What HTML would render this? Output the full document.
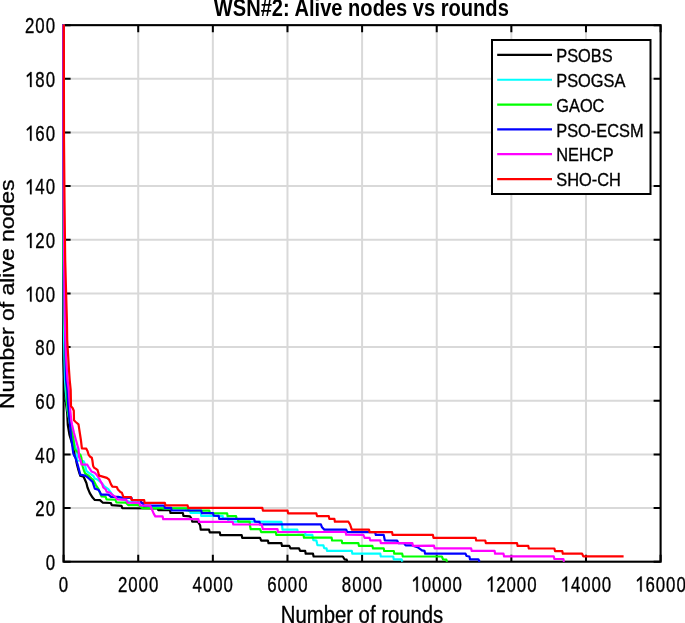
<!DOCTYPE html><html><head><meta charset="utf-8"><style>html,body{margin:0;padding:0;background:#fff;overflow:hidden}svg{display:block;will-change:transform}text{font-family:"Liberation Sans",sans-serif;fill:#000;stroke:#000;stroke-width:0.3px;stroke-linejoin:round}</style></head><body><svg width="685" height="623" viewBox="0 0 685 623"><rect x="0" y="0" width="685" height="623" fill="#fff"/><path d="M138.22 25.15V561.70M212.85 25.15V561.70M287.48 25.15V561.70M362.10 25.15V561.70M436.73 25.15V561.70M511.35 25.15V561.70M585.98 25.15V561.70M63.60 508.05H660.60M63.60 454.39H660.60M63.60 400.74H660.60M63.60 347.08H660.60M63.60 293.43H660.60M63.60 239.77H660.60M63.60 186.11H660.60M63.60 132.46H660.60M63.60 78.80H660.60" stroke="#d9d9d9" stroke-width="2" fill="none"/><path d="M63.60 561.70v-7M63.60 25.15v7M138.22 561.70v-7M138.22 25.15v7M212.85 561.70v-7M212.85 25.15v7M287.48 561.70v-7M287.48 25.15v7M362.10 561.70v-7M362.10 25.15v7M436.73 561.70v-7M436.73 25.15v7M511.35 561.70v-7M511.35 25.15v7M585.98 561.70v-7M585.98 25.15v7M660.60 561.70v-7M660.60 25.15v7M63.60 561.70h7M660.60 561.70h-7M63.60 508.05h7M660.60 508.05h-7M63.60 454.39h7M660.60 454.39h-7M63.60 400.74h7M660.60 400.74h-7M63.60 347.08h7M660.60 347.08h-7M63.60 293.43h7M660.60 293.43h-7M63.60 239.77h7M660.60 239.77h-7M63.60 186.11h7M660.60 186.11h-7M63.60 132.46h7M660.60 132.46h-7M63.60 78.80h7M660.60 78.80h-7M63.60 25.15h7M660.60 25.15h-7" stroke="#000" stroke-width="2" fill="none"/><rect x="63.6" y="25.15" width="597.00" height="536.55" stroke="#000" stroke-width="2.1" fill="none"/><path d="M63.3,24.5 63.3,360.0 64.5,385.0 65.6,400.0 67.2,413.0 67.8,425.0 69.5,435.0 72.5,445.0 74.2,450.0 74.6,456.0 75.8,458.0 76.8,463.8 78.4,470.0 80.3,475.8 83.6,476.8 86.4,483.0 87.5,487.5 89.8,493.1 92.6,497.6 94.8,499.9 100.0,500.1 102.9,502.7 110.9,503.0 111.7,505.2 121.5,505.8 122.3,508.2 157.8,508.3 158.3,510.2 170.0,510.2 170.5,513.0 182.9,513.0 183.4,515.8 190.0,516.3 191.7,519.1 192.2,521.6 197.9,521.6 200.1,525.2 200.7,529.7 209.1,529.7 209.7,532.3 219.8,532.3 220.3,535.1 241.7,535.1 242.2,537.9 260.1,537.9 261.2,540.6 267.9,540.6 268.5,543.2 281.4,543.2 282.0,545.9 289.3,545.9 290.4,548.3 299.0,548.3 300.1,550.9 305.2,550.9 305.7,553.7 313.0,553.7 313.6,556.5 342.8,556.5 344.5,559.3 346.7,559.7 347.3,561.7" stroke="#000000" stroke-width="2.2" fill="none" stroke-linejoin="round"/><path d="M63.4,24.5 63.4,200.0 63.6,260.0 63.9,320.0 64.1,340.0 64.5,360.0 65.0,380.0 65.6,390.0 66.5,400.0 67.5,410.0 69.5,420.0 71.5,430.0 73.5,440.0 75.2,447.0 77.0,450.6 77.0,460.5 83.5,461.0 84.5,463.0 86.3,470.8 88.6,472.7 93.4,476.0 94.7,478.5 97.5,479.5 101.6,483.0 104.4,486.4 108.3,489.1 110.0,491.3 112.0,494.3 115.0,497.3 125.0,500.3 140.0,505.3 165.0,508.3 186.0,508.3 186.5,510.5 190.0,510.5 190.5,512.9 200.9,512.9 201.2,515.9 222.6,515.9 223.0,518.7 228.0,518.7 228.5,521.6 281.4,521.8 282.0,524.7 282.5,529.6 297.3,529.6 297.8,532.1 305.0,532.1 305.5,534.8 312.3,534.8 312.8,537.5 313.3,540.1 316.4,540.5 317.0,543.2 317.5,545.1 323.4,545.3 324.1,548.1 326.5,548.3 327.0,550.9 351.8,550.9 352.4,553.7 380.3,553.7 380.8,556.5 393.2,556.5 393.8,559.3 401.6,559.3 402.4,561.7" stroke="#00ffff" stroke-width="2.2" fill="none" stroke-linejoin="round"/><path d="M63.4,24.5 63.4,200.0 63.8,260.0 64.6,320.0 65.1,340.0 65.7,360.0 66.3,380.0 66.8,392.0 67.3,405.0 69.0,418.0 71.0,428.0 73.2,438.0 74.2,446.0 74.5,449.0 76.5,451.0 80.5,455.0 81.2,457.0 82.8,467.0 84.1,470.8 85.1,473.4 88.9,476.0 91.5,478.5 93.3,480.0 96.0,485.3 98.8,489.7 100.5,494.3 101.6,496.5 105.5,496.7 106.6,499.4 115.3,499.7 116.4,502.4 125.9,502.6 128.5,505.1 138.5,505.2 142.4,508.1 188.0,508.4 188.5,510.6 209.3,510.6 210.0,513.2 227.1,513.3 227.6,516.2 236.1,516.2 236.6,519.0 238.0,519.0 238.3,521.6 249.6,521.6 250.1,526.3 250.7,529.2 260.1,529.2 261.2,532.1 275.8,532.1 276.3,534.8 303.5,534.8 304.0,537.7 331.6,537.7 332.1,540.5 341.7,540.5 342.2,543.1 358.4,543.1 358.9,545.9 372.4,545.9 373.0,548.4 383.7,548.4 384.2,551.0 393.8,551.0 394.3,553.7 402.2,553.7 402.8,556.5 441.9,556.5 443.0,559.3 446.4,559.7 447.0,561.7" stroke="#00ff00" stroke-width="2.2" fill="none" stroke-linejoin="round"/><path d="M63.4,24.5 63.5,140.0 63.7,200.0 64.1,260.0 64.9,320.0 65.3,340.0 65.6,360.0 66.0,380.0 67.4,390.0 68.2,405.0 69.5,420.0 70.0,425.0 71.2,438.0 72.2,445.0 73.3,453.4 75.3,457.4 77.5,464.0 79.3,470.8 80.2,474.7 85.1,475.6 87.0,476.9 88.9,478.5 92.6,481.9 94.8,488.6 98.2,489.7 100.0,492.1 101.1,494.6 108.4,494.6 111.0,496.8 118.2,496.8 121.8,497.6 131.5,497.8 132.0,500.3 140.8,500.3 141.2,502.9 143.0,502.9 143.5,505.7 164.3,505.7 164.9,507.9 171.1,507.9 171.6,510.5 201.2,510.5 201.8,513.1 213.0,513.1 213.6,515.7 218.7,515.9 219.2,518.8 254.0,518.8 254.9,521.6 259.5,521.8 260.1,524.4 320.9,524.4 322.0,527.3 324.3,529.6 346.2,529.6 347.3,532.2 375.2,532.2 375.8,534.9 383.7,534.9 384.8,540.3 397.1,540.6 398.3,543.1 404.0,543.1 405.6,545.3 411.2,545.3 417.4,547.2 421.3,549.8 421.7,550.3 424.5,550.9 425.1,553.7 465.5,553.7 466.6,556.0 469.4,556.5 470.0,559.3 478.4,559.3 479.6,561.7" stroke="#0000ff" stroke-width="2.2" fill="none" stroke-linejoin="round"/><path d="M63.5,24.5 63.5,140.0 63.7,200.0 64.1,260.0 64.9,320.0 65.4,340.0 66.3,360.0 67.5,380.0 68.8,390.0 69.8,405.0 71.2,420.0 72.1,425.0 74.0,433.0 75.9,440.0 77.6,446.0 78.6,449.6 79.0,456.7 80.6,460.5 81.5,464.5 87.3,464.7 88.6,467.0 89.9,468.9 91.5,471.5 94.7,472.7 96.6,474.7 97.9,476.6 99.2,478.5 100.0,480.4 102.2,484.1 103.3,487.3 105.8,489.5 106.6,491.7 110.2,492.8 112.0,494.6 115.3,496.8 117.2,499.4 126.3,499.8 127.7,502.7 139.4,503.0 140.1,505.5 150.3,505.7 152.0,509.6 153.7,513.6 155.3,516.4 162.6,516.4 163.2,519.2 198.4,519.1 199.0,521.9 232.7,521.9 233.3,524.5 261.7,524.5 262.9,529.2 277.5,529.2 278.0,532.0 345.6,532.0 346.2,534.7 363.4,534.9 364.6,537.8 369.6,537.8 370.2,540.3 380.3,540.3 380.8,543.1 412.3,543.1 412.9,545.8 434.0,545.7 434.6,548.3 471.1,548.3 471.7,550.9 494.6,550.9 495.1,553.7 503.5,553.7 504.1,556.4 553.8,556.4 554.4,559.0 563.4,559.0 564.0,561.7" stroke="#ff00ff" stroke-width="2.2" fill="none" stroke-linejoin="round"/><path d="M63.8,24.5 64.0,140.0 64.5,200.0 65.2,260.0 66.3,300.0 66.9,320.0 67.2,340.0 69.0,370.0 69.7,380.0 70.7,390.0 71.0,406.3 72.6,408.0 73.8,410.8 74.0,420.3 75.7,422.0 78.5,424.3 80.9,440.0 81.9,448.3 86.3,448.7 87.6,451.2 88.6,454.8 90.2,456.7 91.8,457.7 92.4,460.5 93.1,465.7 94.0,467.6 96.0,468.9 97.6,470.2 98.5,473.4 99.2,475.6 106.9,477.9 109.1,479.7 110.9,484.1 112.4,486.6 116.8,487.0 117.9,489.5 120.4,492.1 121.9,492.8 123.4,496.8 131.0,497.2 131.5,499.9 144.2,500.1 144.6,502.8 164.9,502.9 165.5,505.4 187.6,505.4 188.2,507.9 262.3,507.8 262.9,510.6 287.6,510.6 288.1,513.4 316.4,513.4 317.0,516.1 328.8,516.1 329.3,518.9 334.4,518.9 334.9,521.7 348.4,521.7 350.1,524.5 351.8,529.6 369.0,529.6 369.6,532.2 392.1,532.2 392.6,534.9 432.9,534.9 433.5,537.8 475.6,537.8 476.2,540.5 485.3,540.5 485.8,543.1 517.0,543.1 517.6,545.9 528.3,545.9 528.8,548.5 554.4,548.5 555.0,551.1 562.3,551.1 562.8,553.7 582.1,553.7 583.3,556.3 623.6,556.3" stroke="#ff0000" stroke-width="2.2" fill="none" stroke-linejoin="round"/><text transform="translate(63.50 591.50) scale(0.93 1.19)" font-size="18.1" text-anchor="middle">0</text><text transform="translate(122.68 591.50) scale(0.93 1.19)" font-size="18.1" text-anchor="middle">2</text><text transform="translate(132.97 591.50) scale(0.93 1.19)" font-size="18.1" text-anchor="middle">0</text><text transform="translate(143.28 591.50) scale(0.93 1.19)" font-size="18.1" text-anchor="middle">0</text><text transform="translate(153.58 591.50) scale(0.93 1.19)" font-size="18.1" text-anchor="middle">0</text><text transform="translate(197.30 591.50) scale(0.93 1.19)" font-size="18.1" text-anchor="middle">4</text><text transform="translate(207.60 591.50) scale(0.93 1.19)" font-size="18.1" text-anchor="middle">0</text><text transform="translate(217.90 591.50) scale(0.93 1.19)" font-size="18.1" text-anchor="middle">0</text><text transform="translate(228.20 591.50) scale(0.93 1.19)" font-size="18.1" text-anchor="middle">0</text><text transform="translate(271.92 591.50) scale(0.93 1.19)" font-size="18.1" text-anchor="middle">6</text><text transform="translate(282.22 591.50) scale(0.93 1.19)" font-size="18.1" text-anchor="middle">0</text><text transform="translate(292.52 591.50) scale(0.93 1.19)" font-size="18.1" text-anchor="middle">0</text><text transform="translate(302.82 591.50) scale(0.93 1.19)" font-size="18.1" text-anchor="middle">0</text><text transform="translate(346.55 591.50) scale(0.93 1.19)" font-size="18.1" text-anchor="middle">8</text><text transform="translate(356.85 591.50) scale(0.93 1.19)" font-size="18.1" text-anchor="middle">0</text><text transform="translate(367.15 591.50) scale(0.93 1.19)" font-size="18.1" text-anchor="middle">0</text><text transform="translate(377.45 591.50) scale(0.93 1.19)" font-size="18.1" text-anchor="middle">0</text><text transform="translate(426.32 591.50) scale(0.93 1.19)" font-size="18.1" text-anchor="middle">0</text><text transform="translate(436.62 591.50) scale(0.93 1.19)" font-size="18.1" text-anchor="middle">0</text><text transform="translate(446.93 591.50) scale(0.93 1.19)" font-size="18.1" text-anchor="middle">0</text><text transform="translate(457.23 591.50) scale(0.93 1.19)" font-size="18.1" text-anchor="middle">0</text><text transform="translate(500.95 591.50) scale(0.93 1.19)" font-size="18.1" text-anchor="middle">2</text><text transform="translate(511.25 591.50) scale(0.93 1.19)" font-size="18.1" text-anchor="middle">0</text><text transform="translate(521.55 591.50) scale(0.93 1.19)" font-size="18.1" text-anchor="middle">0</text><text transform="translate(531.85 591.50) scale(0.93 1.19)" font-size="18.1" text-anchor="middle">0</text><text transform="translate(575.58 591.50) scale(0.93 1.19)" font-size="18.1" text-anchor="middle">4</text><text transform="translate(585.88 591.50) scale(0.93 1.19)" font-size="18.1" text-anchor="middle">0</text><text transform="translate(596.17 591.50) scale(0.93 1.19)" font-size="18.1" text-anchor="middle">0</text><text transform="translate(606.48 591.50) scale(0.93 1.19)" font-size="18.1" text-anchor="middle">0</text><text transform="translate(650.20 591.50) scale(0.93 1.19)" font-size="18.1" text-anchor="middle">6</text><text transform="translate(660.50 591.50) scale(0.93 1.19)" font-size="18.1" text-anchor="middle">0</text><text transform="translate(670.80 591.50) scale(0.93 1.19)" font-size="18.1" text-anchor="middle">0</text><text transform="translate(681.10 591.50) scale(0.93 1.19)" font-size="18.1" text-anchor="middle">0</text><text transform="translate(50.35 569.90) scale(0.93 1.19)" font-size="18.1" text-anchor="middle">0</text><text transform="translate(40.05 516.25) scale(0.93 1.19)" font-size="18.1" text-anchor="middle">2</text><text transform="translate(50.35 516.25) scale(0.93 1.19)" font-size="18.1" text-anchor="middle">0</text><text transform="translate(40.05 462.59) scale(0.93 1.19)" font-size="18.1" text-anchor="middle">4</text><text transform="translate(50.35 462.59) scale(0.93 1.19)" font-size="18.1" text-anchor="middle">0</text><text transform="translate(40.05 408.94) scale(0.93 1.19)" font-size="18.1" text-anchor="middle">6</text><text transform="translate(50.35 408.94) scale(0.93 1.19)" font-size="18.1" text-anchor="middle">0</text><text transform="translate(40.05 355.28) scale(0.93 1.19)" font-size="18.1" text-anchor="middle">8</text><text transform="translate(50.35 355.28) scale(0.93 1.19)" font-size="18.1" text-anchor="middle">0</text><text transform="translate(40.05 301.62) scale(0.93 1.19)" font-size="18.1" text-anchor="middle">0</text><text transform="translate(50.35 301.62) scale(0.93 1.19)" font-size="18.1" text-anchor="middle">0</text><text transform="translate(40.05 247.97) scale(0.93 1.19)" font-size="18.1" text-anchor="middle">2</text><text transform="translate(50.35 247.97) scale(0.93 1.19)" font-size="18.1" text-anchor="middle">0</text><text transform="translate(40.05 194.31) scale(0.93 1.19)" font-size="18.1" text-anchor="middle">4</text><text transform="translate(50.35 194.31) scale(0.93 1.19)" font-size="18.1" text-anchor="middle">0</text><text transform="translate(40.05 140.66) scale(0.93 1.19)" font-size="18.1" text-anchor="middle">6</text><text transform="translate(50.35 140.66) scale(0.93 1.19)" font-size="18.1" text-anchor="middle">0</text><text transform="translate(40.05 87.00) scale(0.93 1.19)" font-size="18.1" text-anchor="middle">8</text><text transform="translate(50.35 87.00) scale(0.93 1.19)" font-size="18.1" text-anchor="middle">0</text><text transform="translate(29.75 33.35) scale(0.93 1.19)" font-size="18.1" text-anchor="middle">2</text><text transform="translate(40.05 33.35) scale(0.93 1.19)" font-size="18.1" text-anchor="middle">0</text><text transform="translate(50.35 33.35) scale(0.93 1.19)" font-size="18.1" text-anchor="middle">0</text><path d="M416.29 591.50L417.84 591.50L417.84 576.55L416.79 576.55L412.94 580.05L413.39 581.65L416.29 579.30ZM490.92 591.50L492.47 591.50L492.47 576.55L491.42 576.55L487.57 580.05L488.02 581.65L490.92 579.30ZM565.54 591.50L567.09 591.50L567.09 576.55L566.04 576.55L562.19 580.05L562.64 581.65L565.54 579.30ZM640.17 591.50L641.72 591.50L641.72 576.55L640.67 576.55L636.82 580.05L637.27 581.65L640.17 579.30ZM30.02 301.62L31.57 301.62L31.57 286.68L30.52 286.68L26.67 290.18L27.12 291.77L30.02 289.43ZM30.02 247.97L31.57 247.97L31.57 233.02L30.52 233.02L26.67 236.52L27.12 238.12L30.02 235.77ZM30.02 194.31L31.57 194.31L31.57 179.36L30.52 179.36L26.67 182.86L27.12 184.46L30.02 182.11ZM30.02 140.66L31.57 140.66L31.57 125.71L30.52 125.71L26.67 129.21L27.12 130.81L30.02 128.46ZM30.02 87.00L31.57 87.00L31.57 72.05L30.52 72.05L26.67 75.55L27.12 77.15L30.02 74.80Z" fill="#000" stroke="#000" stroke-width="0.3" stroke-linejoin="round"/><text transform="translate(362 623.0) scale(1 1.14)" font-size="20.3" text-anchor="middle">Number of rounds</text><text transform="translate(13.9 294.25) scale(1 1.131) rotate(-90)" font-size="20.3" text-anchor="middle">Number of alive nodes</text><text transform="translate(361.3 16.05) scale(1 1.16)" font-size="20.1" font-weight="bold" style="stroke:none" text-anchor="middle">WSN#2: Alive nodes vs rounds</text><rect x="492" y="40" width="158.5" height="154" fill="#fff" stroke="#000" stroke-width="2"/><path d="M497.2 54.90H552" stroke="#000000" stroke-width="2.2"/><text transform="translate(556.2 62.10) scale(1 1.11)" font-size="16.4">PSOBS</text><path d="M497.2 79.73H552" stroke="#00ffff" stroke-width="2.2"/><text transform="translate(556.2 86.93) scale(1 1.11)" font-size="16.4">PSOGSA</text><path d="M497.2 104.56H552" stroke="#00ff00" stroke-width="2.2"/><text transform="translate(556.2 111.76) scale(1 1.11)" font-size="16.4">GAOC</text><path d="M497.2 129.39H552" stroke="#0000ff" stroke-width="2.2"/><text transform="translate(556.2 136.59) scale(1 1.11)" font-size="16.4">PSO-ECSM</text><path d="M497.2 154.22H552" stroke="#ff00ff" stroke-width="2.2"/><text transform="translate(556.2 161.42) scale(1 1.11)" font-size="16.4">NEHCP</text><path d="M497.2 179.05H552" stroke="#ff0000" stroke-width="2.2"/><text transform="translate(556.2 186.25) scale(1 1.11)" font-size="16.4">SHO-CH</text></svg></body></html>
